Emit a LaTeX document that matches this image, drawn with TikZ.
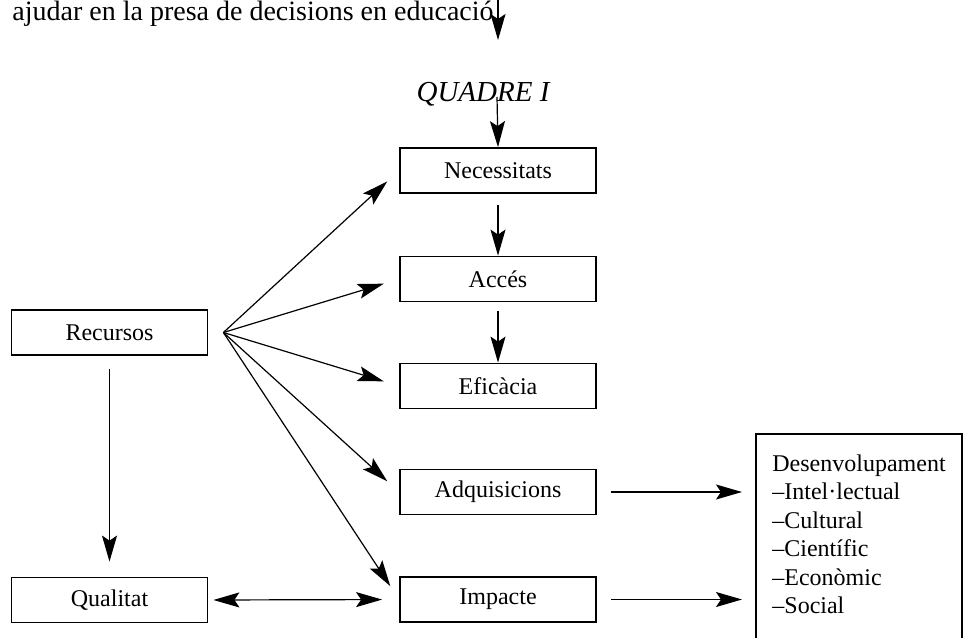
\documentclass[tikz,border=0pt]{standalone}
\usepackage{fontspec}
\setmainfont{Liberation Serif}
\usetikzlibrary{arrows.meta}

\begin{document}
\begin{tikzpicture}[x=0.5pt, y=-0.5pt, font=\fontsize{12}{14.25}\selectfont,
        >={Stealth[length=13pt, width=7.5pt, inset=2.5pt]},
        box/.style={draw, line width=0.9pt, minimum width=98pt, minimum height=22.5pt, inner sep=0pt},
        arr/.style={->, line width=0.6pt}]
        \useasboundingbox (0,0) rectangle (963,637);
        % Heading
        \node[anchor=base west, inner sep=0pt, font=\fontsize{14}{16}\selectfont] (head) at (12,20) {ajudar en la presa de decisions en educació};
        \coordinate (tin) at (498,-4);
        \coordinate (tout) at (498,40);
        \draw[arr] (tin) -- (tout);
        % Frame title
        \node[anchor=base, inner sep=0pt, font=\fontsize{14.5}{17}\selectfont\itshape] (quad) at (483,101) {QUADRE I};
        \coordinate (qin) at (497,97);
        % Middle column
        \node[box] (nec) at (498,170.5) {Necessitats};
        \node[box] (acc) at (498,279) {Accés};
        \node[box] (efi) at (498,386) {Eficàcia};
        \node[box] (adq) at (498,492) {Adquisicions};
        \node[box] (imp) at (498,599.5) {Impacte};
        % Left column
        \node[box] (rec) at (109.5,332.5) {Recursos};
        \node[box] (qua) at (109.5,600) {Qualitat};
        \coordinate (fan) at ([xshift=7.5pt]rec.east);
        % Outcomes
        \node[anchor=north west, align=left, inner xsep=8pt, inner ysep=10pt] (des) at (756,434)
            {Desenvolupament\\–Intel·lectual\\–Cultural\\–Científic\\–Econòmic\\–Social};
        \draw[line width=0.9pt] (des.north west) rectangle ++(206,260);
        % Chain
        \draw[arr] (qin) -- (nec.north);
        \draw[arr, shorten <=5.5pt] (nec.south) -- (acc.north);
        \draw[arr, shorten <=4.5pt] (acc.south) -- (efi.north);
        % Fan from resources
        \foreach \b in {nec,acc,efi,adq,imp}
            \draw[arr, shorten >=8pt] (fan) -- (\b.west);
        \draw[arr, shorten <=6.5pt, shorten >=7.5pt] (rec.south) -- (qua.north);
        \draw[<->, line width=0.6pt, shorten <=2.5pt, shorten >=8.5pt] (qua.east) -- (imp.west);
        % To development
        \draw[arr, shorten <=7pt, shorten >=7pt] (adq.east) -- (adq.east -| des.west);
        \draw[arr, shorten <=7pt, shorten >=7pt] (imp.east) -- (imp.east -| des.west);
    \end{tikzpicture}
\end{document}
